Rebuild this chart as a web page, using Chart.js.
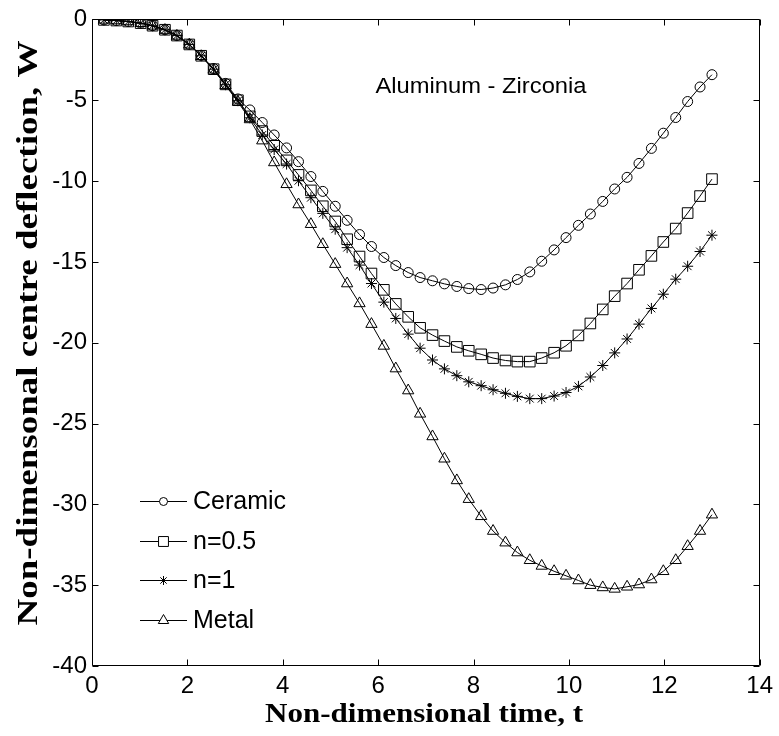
<!DOCTYPE html>
<html><head><meta charset="utf-8">
<script src="https://cdn.jsdelivr.net/npm/chart.js@4/dist/chart.umd.min.js"></script>
<style>html,body{margin:0;padding:0;background:#fff}#wrap{width:779px;height:736px;position:relative}</style>
</head><body><div id="wrap"><canvas id="c" width="779" height="736"></canvas></div>
<script>
// ---- data ----
const times = [0.25,0.51,0.76,1.02,1.27,1.53,1.78,2.04,2.29,2.55,2.80,3.06,3.31,3.57,3.82,4.08,4.33,4.59,4.84,5.10,5.35,5.61,5.86,6.12,6.37,6.63,6.88,7.14,7.39,7.65,7.90,8.16,8.41,8.67,8.92,9.18,9.43,9.69,9.94,10.20,10.45,10.71,10.96,11.22,11.47,11.73,11.98,12.24,12.49,12.75,13.00];
const ceramic = [-0.03,-0.07,-0.13,-0.23,-0.39,-0.64,-1.0,-1.54,-2.23,-3.04,-3.96,-4.92,-5.6,-6.38,-7.15,-7.95,-8.8,-9.72,-10.64,-11.56,-12.43,-13.31,-14.05,-14.73,-15.23,-15.66,-15.97,-16.17,-16.36,-16.52,-16.65,-16.71,-16.62,-16.42,-16.09,-15.62,-14.96,-14.26,-13.5,-12.74,-12.04,-11.26,-10.49,-9.77,-8.91,-7.98,-7.04,-6.07,-5.08,-4.18,-3.42];
const n05 = [-0.03,-0.07,-0.13,-0.23,-0.39,-0.64,-1.0,-1.55,-2.25,-3.08,-4.02,-5.0,-6.0,-6.91,-7.82,-8.72,-9.62,-10.58,-11.56,-12.5,-13.6,-14.67,-15.72,-16.73,-17.6,-18.4,-19.08,-19.53,-19.9,-20.26,-20.5,-20.72,-20.95,-21.1,-21.17,-21.17,-20.95,-20.62,-20.19,-19.55,-18.81,-17.94,-17.12,-16.34,-15.49,-14.63,-13.77,-12.94,-11.98,-10.93,-9.88];
const n1 = [-0.03,-0.07,-0.13,-0.23,-0.39,-0.64,-1.0,-1.55,-2.25,-3.08,-4.04,-5.03,-6.09,-7.15,-8.05,-8.95,-9.98,-11.03,-12.0,-12.98,-14.12,-15.2,-16.34,-17.49,-18.5,-19.47,-20.34,-21.07,-21.62,-22.04,-22.42,-22.66,-22.91,-23.13,-23.32,-23.46,-23.46,-23.3,-23.08,-22.7,-22.12,-21.41,-20.63,-19.77,-18.85,-17.88,-17.0,-16.07,-15.27,-14.36,-13.35];
const metal = [-0.03,-0.07,-0.13,-0.24,-0.4,-0.66,-1.02,-1.57,-2.28,-3.12,-4.08,-5.1,-6.19,-7.5,-8.85,-10.2,-11.45,-12.67,-13.91,-15.14,-16.34,-17.57,-18.85,-20.2,-21.6,-22.96,-24.4,-25.8,-27.18,-28.52,-29.68,-30.74,-31.65,-32.37,-32.98,-33.46,-33.81,-34.14,-34.42,-34.71,-35.0,-35.14,-35.23,-35.1,-34.96,-34.65,-34.14,-33.46,-32.59,-31.65,-30.64];
const seriesNames = ['Ceramic','n=0.5','n=1','Metal'];
const xTickLabels = ['0','2','4','6','8','10','12','14'];
const yTickLabels = ['-40','-35','-30','-25','-20','-15','-10','-5','0'];
const xTitle = 'Non-dimensional time, t';
const yTitle = 'Non-dimensonal centre deflection, W';
const annotation = 'Aluminum - Zirconia';

// ---- styles ----
const seriesValues = [ceramic, n05, n1, metal];
const styles = [
  {pointStyle:'circle', pointRadius:5, legendRadius:4},
  {pointStyle:'rect', pointRadius:7.5, legendRadius:7},
  {pointStyle:'star', pointRadius:5.5, legendRadius:4.5},
  {pointStyle:'triangle', pointRadius:6.5, legendRadius:6}
];
const datasets = seriesValues.map((vals,i)=>({
  label: seriesNames[i],
  data: times.map((t,j)=>({x:t, y:vals[j]})),
  showLine:true,
  borderColor:'#000',
  borderWidth:1,
  backgroundColor:'rgba(0,0,0,0)',
  pointBorderColor:'#000',
  pointBackgroundColor:'rgba(0,0,0,0)',
  pointBorderWidth:1,
  pointStyle: styles[i].pointStyle,
  pointRadius: styles[i].pointRadius,
  tension:0
}));

function scaledText(ctx, text, x, y, font, targetW, rot, align){
  ctx.save();
  ctx.translate(x,y); ctx.rotate(rot||0);
  ctx.font = font;
  const w = ctx.measureText(text).width;
  ctx.scale(targetW/w, 1);
  ctx.textAlign = align||'center';
  ctx.textBaseline = 'alphabetic';
  ctx.fillStyle = '#000';
  ctx.fillText(text, 0, 0);
  ctx.restore();
}

const decor = {
  id:'decor',
  afterDatasetsDraw(chart){
    const {ctx, chartArea:a, scales:{x, y}} = chart;
    ctx.save();
    ctx.strokeStyle = '#000';
    ctx.lineWidth = 1;
    const L = 6;
    const l = Math.round(a.left)+0.5, r = Math.round(a.right)-0.5, t = Math.round(a.top)+0.5, b = Math.round(a.bottom)-0.5;
    ctx.beginPath();
    ctx.rect(l, t, r-l, b-t);
    x.ticks.forEach(tk=>{
      const px = Math.round(x.getPixelForValue(tk.value))+0.5;
      ctx.moveTo(px,b); ctx.lineTo(px,b-L);
      ctx.moveTo(px,t); ctx.lineTo(px,t+L);
    });
    y.ticks.forEach(tk=>{
      const py = Math.round(y.getPixelForValue(tk.value))+0.5;
      ctx.moveTo(l,py); ctx.lineTo(l+L,py);
      ctx.moveTo(r,py); ctx.lineTo(r-L,py);
    });
    ctx.stroke();

    // legend (inside plot, no box)
    const rowY = [501, 541, 580, 620];
    chart.data.datasets.forEach((ds,i)=>{
      const yy = rowY[i]+0.5;
      ctx.strokeStyle = '#000';
      ctx.lineWidth = 1;
      ctx.beginPath(); ctx.moveTo(140,yy); ctx.lineTo(187,yy); ctx.stroke();
      ctx.fillStyle = '#fff';
      Chart.helpers.drawPoint(ctx, {pointStyle:ds.pointStyle, radius:styles[i].legendRadius, borderWidth:1, rotation:0}, 163.5, yy);
      ctx.font = '25px "Liberation Sans", Arial, sans-serif';
      ctx.fillStyle = '#000';
      ctx.textAlign = 'left';
      ctx.textBaseline = 'middle';
      ctx.fillText(ds.label, 193, rowY[i]+1);
    });

    // annotation
    scaledText(ctx, annotation, 481, 93, '22px "Liberation Sans", Arial, sans-serif', 211, 0);
    // axis titles
    scaledText(ctx, xTitle, 424, 722, 'bold 27px "Liberation Serif", "Times New Roman", serif', 318, 0);
    scaledText(ctx, yTitle, 37, 333, 'bold 30px "Liberation Serif", "Times New Roman", serif', 585, -Math.PI/2);
    ctx.restore();
  }
};

new Chart(document.getElementById('c'), {
  type:'scatter',
  data:{datasets},
  options:{
    responsive:false,
    animation:false,
    devicePixelRatio:1,
    layout:{padding:{left:0, right:18, top:18, bottom:0}},
    plugins:{legend:{display:false}, tooltip:{enabled:false}},
    scales:{
      x:{
        type:'linear', min:0, max:14,
        grid:{display:false, drawTicks:false},
        border:{display:false},
        ticks:{stepSize:2, padding:6, color:'#000', font:{family:'"Liberation Sans", Arial, sans-serif', size:24},
          callback:(v)=>xTickLabels[Math.round(v/2)]},
        afterFit:(s)=>{s.height = 70;}
      },
      y:{
        type:'linear', min:-40, max:0,
        grid:{display:false, drawTicks:false},
        border:{display:false},
        ticks:{stepSize:5, padding:5, color:'#000', font:{family:'"Liberation Sans", Arial, sans-serif', size:24},
          callback:(v)=>yTickLabels[Math.round((v+40)/5)]},
        afterFit:(s)=>{s.width = 92;}
      }
    }
  },
  plugins:[decor]
});
</script>
</body></html>
